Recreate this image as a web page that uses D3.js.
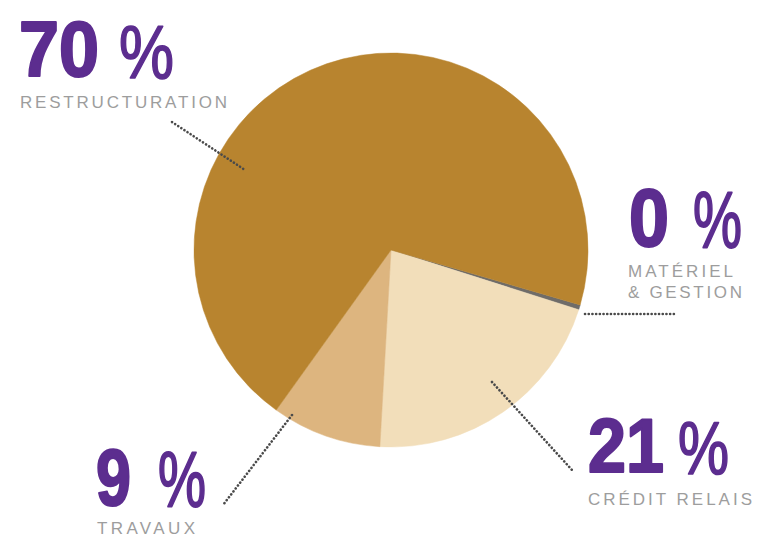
<!DOCTYPE html>
<html><head><meta charset="utf-8">
<script src="https://cdn.jsdelivr.net/npm/d3@7"></script>
<style>html,body{margin:0;padding:0;background:#fff}</style>
</head><body>
<svg id="c" width="757" height="538"></svg>
<script>
const categories = ["MATÉRIEL|& GESTION", "CRÉDIT RELAIS", "TRAVAUX", "RESTRUCTURATION"];
const values = [0.4, 21, 9, 69.6];
const colors = ["#6f6c69", "#f2deba", "#ddb57f", "#b8842f"];

const svg = d3.select("#c");
const cx = 391, cy = 250, R = 197;
const toRad = d => d * Math.PI / 180;
const start = toRad(106.2);
const pie = d3.pie().sort(null).value(d => d).startAngle(start).endAngle(start + 2 * Math.PI);
const arcs = pie(values);
const arc = d3.arc().innerRadius(0).outerRadius(R);
const g = svg.append("g").attr("transform", `translate(${cx},${cy})`);
g.selectAll("path").data(arcs).join("path")
  .attr("d", arc).attr("fill", (d, i) => colors[i])
  .attr("stroke", (d, i) => colors[i]).attr("stroke-width", 0.5);

// label layout (positions only)
const layout = [
  {nx: 629, ny: 246, nw: 40, ns: 82, px: 693, pw: 49, lx: 628, ly: [277, 298], lw: [105, 114], line: [[585, 314], [674, 314]]},
  {nx: 588, ny: 472, nw: 76, ns: 76, px: 678, pw: 51, lx: 588, ly: [505], lw: [164], line: [[492, 382], [572, 470]]},
  {nx: 96, ny: 505, nw: 35, ns: 80, px: 158, pw: 48, lx: 97, ly: [534], lw: [98], line: [[292, 415], [223, 505]]},
  {nx: 19, ny: 76, nw: 80, ns: 78, px: 119, pw: 55, lx: 20, ly: [108], lw: [207], line: [[172, 122], [245, 170]]}
];
const purple = "#5c2d8f";
arcs.forEach((a, i) => {
  const L = layout[i];
  svg.append("line")
    .attr("x1", L.line[0][0]).attr("y1", L.line[0][1])
    .attr("x2", L.line[1][0]).attr("y2", L.line[1][1])
    .attr("stroke", "#4a4a4a").attr("stroke-width", 2.6)
    .attr("stroke-linecap", "round").attr("stroke-dasharray", "0.1,3.6");
  const num = String(Math.round(values[i]));
  svg.append("text").attr("x", L.nx).attr("y", L.ny)
    .attr("font-family", "Liberation Sans, Arial, sans-serif")
    .attr("font-weight", 700).attr("font-size", L.ns).attr("fill", purple)
    .attr("stroke", purple).attr("stroke-width", 2.2).attr("stroke-linejoin", "round")
    .attr("textLength", L.nw).attr("lengthAdjust", "spacingAndGlyphs").text(num);
  const fs = L.pw / 0.889;
  const sy = (L.ns * 0.98) / fs;
  svg.append("text")
    .attr("transform", `translate(${L.px},${L.ny + 2}) scale(1,${sy})`)
    .attr("font-family", "Liberation Sans, Arial, sans-serif")
    .attr("font-weight", 400).attr("font-size", fs).attr("fill", purple)
    .attr("stroke", purple).attr("stroke-width", 1.3).attr("stroke-linejoin", "round")
    .text("%");
  categories[i].split("|").forEach((t, j) => {
    svg.append("text").attr("x", L.lx).attr("y", L.ly[j])
      .attr("font-family", "Liberation Sans, Arial, sans-serif")
      .attr("font-size", 17).attr("fill", "#9d9d9d")
      .attr("textLength", L.lw[j]).attr("lengthAdjust", "spacing").text(t);
  });
});
</script>
</body></html>
